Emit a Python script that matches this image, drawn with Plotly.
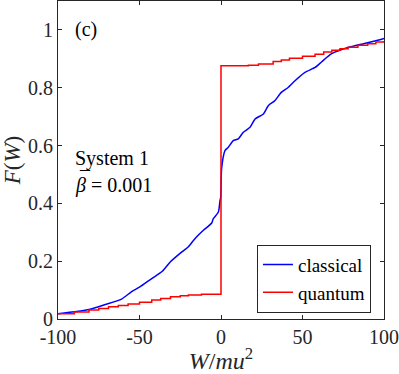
import plotly.graph_objects as go

# classical (blue) curve
w_classical = [-100, -81, -71, -61, -55, -50, -42.5, -36, -31, -24, -20, -16, -10.8,
               -5.7, -4.7, -1.6, -0.6, -0.2, 0.4, 2.5, 4.5, 7.5, 10.6, 13.7, 17.8, 20.9,
               26, 29, 33, 37, 41, 45.4, 51.5, 57.7, 61.8, 67.9, 78, 88, 98.6, 100]
f_classical = [0.018, 0.033, 0.05, 0.069, 0.094, 0.11, 0.14, 0.165, 0.198, 0.232, 0.25,
               0.278, 0.307, 0.332, 0.347, 0.37, 0.41, 0.42, 0.522, 0.583, 0.594, 0.617,
               0.623, 0.646, 0.663, 0.692, 0.709, 0.738, 0.755, 0.784, 0.80, 0.824, 0.853,
               0.87, 0.89, 0.918, 0.939, 0.953, 0.968, 0.97]

# quantum (red) staircase
w_quantum = [-100, -90, -81, -75, -69, -63, -57, -50, -42.5, -37, -31, -25, -20, -12,
             -0.01, 0, 16.8, 23, 32, 37, 42, 50, 57.7, 63, 68, 73, 78, 84, 90, 95, 100]
f_quantum = [0.018, 0.024, 0.031, 0.036, 0.042, 0.047, 0.052, 0.058, 0.066, 0.071,
             0.077, 0.08, 0.083, 0.086, 0.088, 0.876, 0.878, 0.882, 0.891, 0.896,
             0.902, 0.909, 0.916, 0.924, 0.93, 0.935, 0.94, 0.947, 0.952, 0.958, 0.962]

x_ticks = [-100, -50, 0, 50, 100]
x_labels = ["-100", "-50", "0", "50", "100"]
y_ticks = [0, 0.2, 0.4, 0.6, 0.8, 1]
y_labels = ["0", "0.2", "0.4", "0.6", "0.8", "1"]

font_family = "Liberation Serif"
axis_color = "#262626"

traces = [
    go.Scatter(x=w_classical, y=f_classical, mode="lines", name="classical",
               line=dict(color="rgb(0,0,255)", width=1.5, shape="spline", smoothing=0.6)),
    go.Scatter(x=w_quantum, y=f_quantum, mode="lines", name="quantum",
               line=dict(color="rgb(255,0,0)", width=1.5, shape="hv")),
]

axis_common = dict(
    showline=True, linecolor=axis_color, linewidth=1, mirror="ticks",
    ticks="inside", ticklen=4, tickcolor=axis_color,
    showgrid=False, zeroline=False, automargin=False,
    tickfont=dict(family=font_family, size=20, color=axis_color),
)

txt = dict(family=font_family, size=20, color="black")

layout = go.Layout(
    width=399, height=374,
    margin=dict(l=58, r=15, t=1, b=55),
    plot_bgcolor="white", paper_bgcolor="white",
    font=dict(family=font_family, size=20, color=axis_color),
    xaxis=dict(range=[-100, 100], tickvals=x_ticks, ticktext=x_labels,
               title=dict(text="<i>W</i>/<i>mu</i><sup>2</sup>", standoff=0,
                          font=dict(family=font_family, size=24, color=axis_color)),
               **axis_common),
    yaxis=dict(range=[0, 1.1], tickvals=y_ticks, ticktext=y_labels,
               title=dict(text="<i>F</i>(<i>W</i>)", standoff=4,
                          font=dict(family=font_family, size=23, color=axis_color)),
               **axis_common),
    legend=dict(x=0.96, y=0.02, xanchor="right", yanchor="bottom",
                bgcolor="white", bordercolor=axis_color, borderwidth=1,
                font=dict(family=font_family, size=19, color="black"),
                tracegroupgap=0, itemwidth=30),
    showlegend=True,
    annotations=[
        dict(text="(c)", x=0.045, y=1.0, xref="paper", yref="y", showarrow=False,
             xanchor="left", yanchor="middle", font=txt),
        dict(text="System 1", x=0.045, y=0.555, xref="paper", yref="y", showarrow=False,
             xanchor="left", yanchor="middle", font=txt),
        dict(text="<i>β</i> = 0.001", x=0.045, y=0.462, xref="paper", yref="y",
             showarrow=False, xanchor="left", yanchor="middle", font=txt),
        dict(text="¯", x=0.058, y=0.485, xref="paper", yref="y", showarrow=False,
             xanchor="left", yanchor="middle", font=txt),
    ],
)

fig = go.Figure(data=traces, layout=layout)
fig.write_html("out.html", config={"displayModeBar": False},
               post_script="document.body.style.margin='0';")
